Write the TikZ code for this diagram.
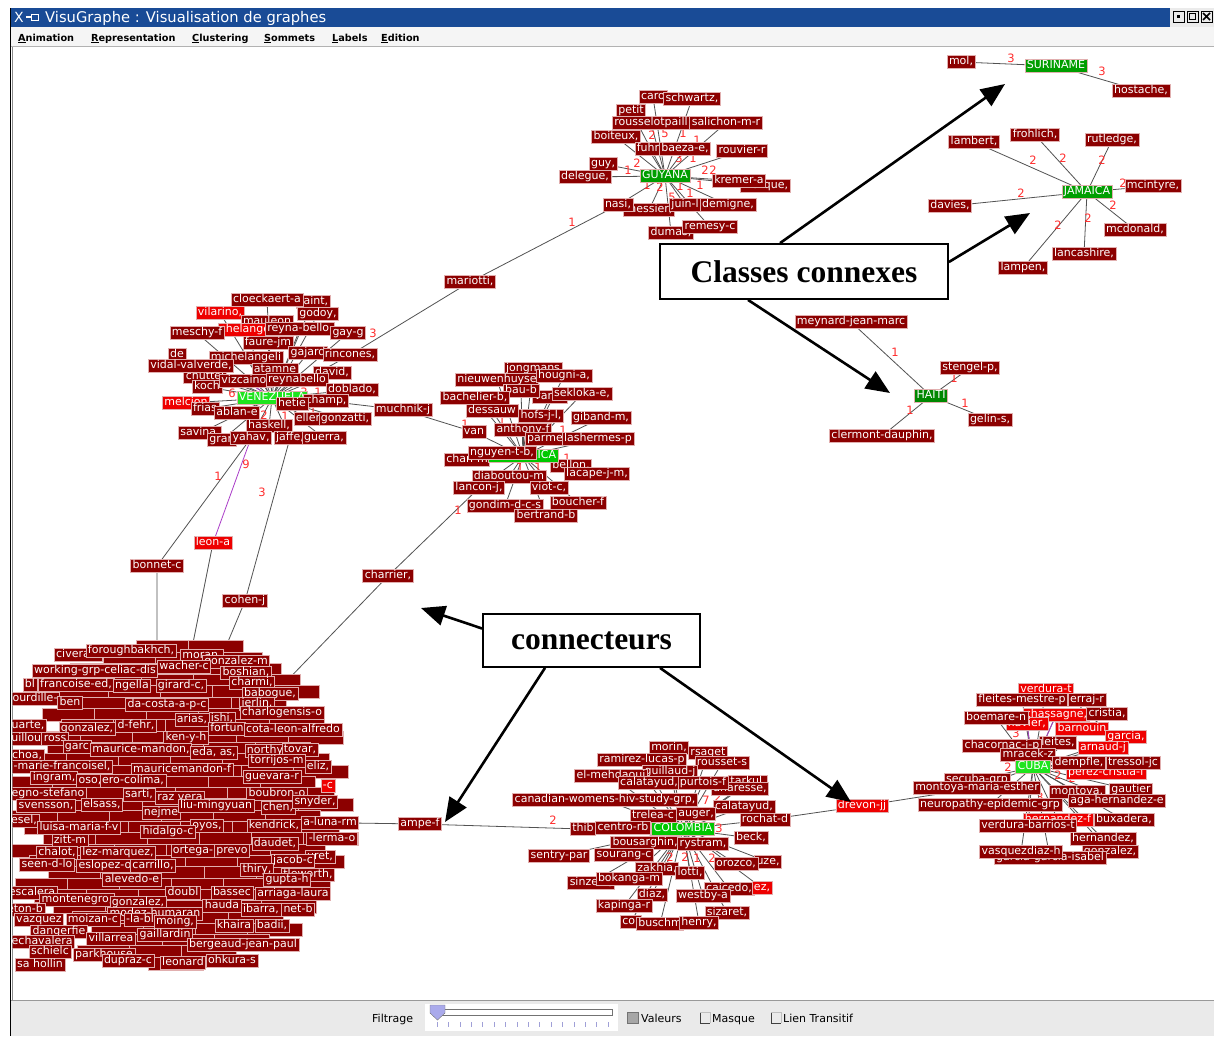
\documentclass[tikz,border=0pt]{standalone}
\usepackage{fontspec}
\setmainfont{DejaVu Sans}
\newfontfamily\callfont{Liberation Serif}
\usetikzlibrary{arrows.meta}
\pgfdeclarelayer{background}
\pgfdeclarelayer{canvas}
\pgfsetlayers{canvas,background,main}
\definecolor{dr}{RGB}{140,0,0}
\definecolor{br}{RGB}{238,0,0}
\definecolor{labborder}{RGB}{225,175,175}
\definecolor{gdark}{RGB}{0,135,0}
\definecolor{gmid}{RGB}{0,158,0}
\definecolor{glime}{RGB}{30,228,30}
\definecolor{gcol}{RGB}{0,200,0}
\definecolor{wtred}{RGB}{255,45,45}
\definecolor{titleblue}{RGB}{25,75,150}
\definecolor{purpleedge}{RGB}{170,60,200}
\definecolor{panelgray}{RGB}{234,234,234}
\definecolor{thumb}{RGB}{170,170,235}
\definecolor{tick}{RGB}{160,160,215}

\tikzset{
  lab/.style={fill=#1, draw=labborder, line width=0.6pt, text=white,
    font=\fontsize{11}{11}\selectfont, inner xsep=2pt, inner ysep=1pt,
    text height=8pt, text depth=2.6pt},
  lab/.default=dr,
  edge/.style={draw=black!68, line width=0.8pt},
  pedge/.style={draw=purpleedge, line width=0.8pt},
  wt/.style={text=wtred, font=\fontsize{11.5}{11.5}\selectfont, inner sep=0pt},
  callout/.style={draw=black, line width=1.8pt, fill=white,
    font=\callfont\bfseries\fontsize{31.5}{31.5}\selectfont},
  bigarrow/.style={line width=2.6pt, -{Triangle[length=24pt,width=20pt]}},
  menu/.style={font=\bfseries\fontsize{9.7}{9.7}\selectfont, anchor=base west, inner sep=0pt},
  panel/.style={font=\fontsize{11}{11}\selectfont, anchor=base west, inner sep=0pt},
}

% a set of author labels: prefix, list x/y/colour/text
\newcommand\labelset[2]{%
  \foreach \Lx/\Ly/\Lc/\Lt [count=\Li] in {#2}{%
    \node[lab=\Lc] (#1\Li) at (\Lx,\Ly) {\Lt};
    \expandafter\xdef\csname n#1\endcsname{\Li}}%
}
% spokes from a country hub to every label of a set
\newcommand\spokes[2]{%
  \edef\spokecount{\csname n#2\endcsname}%
  \begin{pgfonlayer}{background}
    \foreach \Li in {1,...,\spokecount}{\draw[edge] (#1) -- (#2\Li);}
  \end{pgfonlayer}%
}

\begin{document}
\begin{tikzpicture}[x=1pt,y=-1pt]
\useasboundingbox (0,0) rectangle (1214,1036);
\begin{pgfonlayer}{canvas}
  \fill[white] (0,0) rectangle (1214,1036);
\end{pgfonlayer}

% ---------- window chrome ----------
\fill[titleblue] (11,8) rectangle (1170,26.5);
\fill[black!8] (1170,8) rectangle (1214,26.5);
\draw[black, line width=1pt] (1173,11) rectangle (1184,22);
\fill[black] (1177,15) rectangle (1180,18);
\draw[black, line width=1pt] (1187,11) rectangle (1198,22);
\draw[black, line width=1.6pt] (1189.5,13.5) rectangle (1195.5,19.5);
\draw[black, line width=1pt] (1201,11) rectangle (1212,22);
\draw[black, line width=1.6pt] (1203,13) -- (1210,20) (1210,13) -- (1203,20);
\node[font=\fontsize{14}{14}\selectfont, text=white, inner sep=0pt, anchor=base west] (xicon) at (14,22) {X};
\draw[white, line width=1.2pt] (26,17) -- (31,17);
\draw[white, line width=1pt] (31,14) rectangle (38,20);
\node[font=\fontsize{14.7}{14.7}\selectfont, text=white, inner sep=0pt, anchor=base west] (title) at (45,22.5) {VisuGraphe : Visualisation de graphes};

\fill[black!4] (11,26.5) rectangle (1214,46);
\node[menu] (m1) at (18,41) {\underline{A}nimation};
\node[menu] (m2) at (91,41) {\underline{R}epresentation};
\node[menu] (m3) at (192,41) {\underline{C}lustering};
\node[menu] (m4) at (264,41) {\underline{S}ommets};
\node[menu] (m5) at (332,41) {\underline{L}abels};
\node[menu] (m6) at (381,41) {\underline{E}dition};
\draw[black!30] (11,46.5) -- (1214,46.5);
\draw[black, line width=1.2pt] (10.6,8) -- (10.6,1036);
\draw[black!45] (12.6,47) -- (12.6,1000);

% ---------- bottom panel ----------
\fill[panelgray] (11,1000.5) rectangle (1214,1036);
\draw[black!40] (11,1000.5) -- (1214,1000.5);
\node[panel] (p1) at (372,1022) {Filtrage};
\fill[white] (425,1004) rectangle (618,1031);
\draw[black!55, fill=white] (433,1009) rectangle (612,1015);
\draw[black!55, fill=thumb] (430,1005) -- (445,1005) -- (445,1013) -- (437.5,1020) -- (430,1013) -- cycle;
\foreach \k in {0,...,15} \draw[tick] (437+\k*11.4,1022) -- ++(0,5);
\filldraw[fill=black!35, draw=black!55] (627,1012) rectangle (638,1023);
\node[panel] (p2) at (641,1022) {Valeurs};
\draw[black!75] (700,1012) -- (700,1023) -- (710,1023);
\draw[black!25] (700,1012) -- (710,1012) -- (710,1023);
\node[panel] (p3) at (712,1022) {Masque};
\draw[black!75] (771,1012) -- (771,1023) -- (781,1023);
\draw[black!25] (771,1012) -- (781,1012) -- (781,1023);
\node[panel] (p4) at (783,1022) {Lien Transitif};

% ---------- SURINAME ----------
\node[lab=gmid] (su) at (1056,66) {SURINAME};
\labelset{suA}{961/62/dr/{mol,}, 1141/91/dr/{hostache,}}
\spokes{su}{suA}

% ---------- JAMAICA ----------
\node[lab=gmid] (ja) at (1087,192) {JAMAICA};
\labelset{jaA}{974/142/dr/{lambert,}, 1035/135/dr/{frohlich,}, 1112/140/dr/{rutledge,},
  1153/186/dr/{mcintyre,}, 950/206/dr/{davies,}, 1135/230/dr/{mcdonald,},
  1084/254/dr/{lancashire,}, 1023/268/dr/{lampen,}}
\spokes{ja}{jaA}

% ---------- HAITI ----------
\node[lab=gdark] (ha) at (931,396) {HAITI};
\labelset{haA}{851/322/dr/{meynard-jean-marc}, 970/368/dr/{stengel-p,},
  990/420/dr/{gelin-s,}, 882/436/dr/{clermont-dauphin,}}
\spokes{ha}{haA}

% ---------- GUYANA ----------
\labelset{guA}{653/97/dr/{caro}, 692/99/dr/{schwartz,}, 631/111/dr/{petit},
  651/123/dr/{rousselotpaill}, 726/123/dr/{salichon-m-r}, 616/137/dr/{boiteux,},
  648/149/dr/{fuhr}, 742/151/dr/{rouvier-r}, 685/149/dr/{baeza-e,},
  603/164/dr/{guy,}, 585/177/dr/{delegue,}, 765/186/dr/{marque,}}
\node[lab=gmid] (gu) at (665,176) {GUYANA};
\labelset{guB}{739/181/dr/{kremer-a}, 649/210/dr/{messier,}, 618/205/dr/{nasi,},
  685/205/dr/{juin-l}, 728/205/dr/{demigne,}, 671/233/dr/{dumas,}, 710/227/dr/{remesy-c}}
\spokes{gu}{guA}
\spokes{gu}{guB}

% ---------- VENEZUELA ----------
\labelset{veA}{177/355/dr/{de}, 205/377/dr/{chuttel}, 207/387/dr/{koch},
  313/302/dr/{saint,}, 220/313/br/{vilarino,}, 267/300/dr/{cloeckaert-a},
  318/314/dr/{godoy,}, 267/322/dr/{mauleon}, 245/330/br/{chelange},
  197/333/dr/{meschy-f}, 300/329/dr/{reyna-bello,}, 348/333/dr/{gay-g},
  268/343/dr/{faure-jm}, 308/353/dr/{gajard}, 350/355/dr/{rincones,},
  246/358/dr/{michelangeli}, 191/366/dr/{vidal-valverde,}, 275/370/dr/{atamne},
  332/373/dr/{david,}, 246/381/dr/{vizcaino-}, 297/380/dr/{reynabello},
  352/390/dr/{doblado,}, 186/403/br/{melcion}}
\node[lab=glime] (ve) at (272,398) {VENEZUELA};
\labelset{veB}{205/409/dr/{frias}, 326/401/dr/{champ,}, 292/404/dr/{hetie},
  237/413/dr/{ablan-e}, 308/419/dr/{eller}, 345/419/dr/{gonzatti,},
  269/426/dr/{haskell,}, 200/433/dr/{savina,}, 222/440/dr/{gran},
  251/438/dr/{yahav,}, 290/438/dr/{jaffe,}, 324/438/dr/{guerra,}}
\spokes{ve}{veA}
\spokes{ve}{veB}

% ---------- COSTA RICA ----------
\labelset{crA}{533/369/dr/{jongmans}, 497/380/dr/{nieuwenhuyse}, 564/376/dr/{hougni-a,},
  550/397/dr/{van-d}, 521/391/dr/{bau-b}, 582/394/dr/{sekloka-e,},
  475/398/dr/{bachelier-b,}, 492/411/dr/{dessauw}, 541/416/dr/{hofs-j-l,},
  601/418/dr/{giband-m,}, 474/432/dr/{van}, 523/430/dr/{anthony-f},
  545/439/dr/{parme}, 598/439/dr/{lashermes-p}, 467/460/dr/{chan-m},
  571/466/dr/{bellon,}}
\node[lab=gcol] (cr) at (523,456) {COSTA RICA};
\labelset{crB}{502/453/dr/{nguyen-t-b,}, 597/474/dr/{lacape-j-m,}, 509/477/dr/{diaboutou-m},
  479/488/dr/{lancon-j,}, 549/488/dr/{viot-c,}, 578/503/dr/{boucher-f},
  505/506/dr/{gondim-d-c-s}, 546/516/dr/{bertrand-b}}
\spokes{cr}{crA}
\spokes{cr}{crB}

% ---------- COLOMBIA ----------
\labelset{coA}{669/748/dr/{morin,}, 708/753/dr/{rsaget}, 642/760/dr/{ramirez-lucas-p},
  722/763/dr/{rousset-s}, 670/772/dr/{guillaud-j}, 611/776/dr/{el-mehdaoui},
  748/782/dr/{tarkul,}, 740/789/dr/{anaresse,}, 649/783/dr/{calatayud,},
  703/783/dr/{purtois-f}, 605/800/dr/{canadian-womens-hiv-study-grp,},
  744/807/dr/{calatayud,}, 653/816/dr/{trelea-c}, 696/814/dr/{auger,},
  765/820/dr/{rochat-d}, 583/829/dr/{thib}, 623/828/dr/{centro-rb}}
\node[lab=gcol] (co) at (683,829) {COLOMBIA};
\labelset{coB}{751/838/dr/{beck,}, 645/843/dr/{bousarghin,}, 703/844/dr/{rystram,},
  559/856/dr/{sentry-par}, 624/855/dr/{sourang-c}, 768/862/dr/{uze,},
  736/864/dr/{orozco,}, 657/869/dr/{zakhia,}, 690/873/dr/{lotti,},
  591/883/dr/{sinzem,}, 629/879/dr/{bokanga-m}, 729/889/dr/{caicedo,},
  762/888/br/{ez,}, 652/895/dr/{diaz,}, 703/896/dr/{westby-a},
  624/906/dr/{kapinga-r}, 727/913/dr/{sizaret,}, 631/922/dr/{cor},
  660/924/dr/{buschm}, 699/923/dr/{henry,}}
\spokes{co}{coA}
\spokes{co}{coB}

% ---------- CUBA ----------
\labelset{cuA}{1046/690/br/{verdura-t}, 1022/700/dr/{fleites-mestre-p}, 1087/700/dr/{erraj-r},
  1056/715/br/{chassagne,}, 1027/724/br/{xavier,}, 1107/714/dr/{cristia,},
  996/718/dr/{boemare-n}, 1082/729/br/{barnouin}, 1126/737/br/{garcia,},
  1058/743/dr/{leites,}, 1002/746/dr/{chacornac-j-p}, 1103/748/br/{arnaud-j},
  1028/755/dr/{mracek-z}, 1106/773/br/{perez-cristia-f}}
\node[lab=glime] (cu) at (1033,767) {CUBA};
\labelset{cuB}{1079/763/dr/{dempfle,}, 1133/763/dr/{tressol-jc}, 977/780/dr/{secuba-grp},
  1131/790/dr/{gautier}, 1077/792/dr/{montoya,}, 977/788/dr/{montoya-maria-esther},
  1117/801/dr/{aga-hernandez-e}, 990/805/dr/{neuropathy-epidemic-grp},
  1058/820/br/{hernandez-f}, 1124/820/dr/{buxadera,}, 1028/826/dr/{verdura-barrios-t},
  1103/839/dr/{hernandez,}, 1110/852/dr/{gonzalez,}, 1050/858/dr/{garcia-garcia-isabel},
  1021/852/dr/{vasquezdiaz-h}}
\spokes{cu}{cuA}
\spokes{cu}{cuB}

% ---------- large connected cluster at the lower left ----------
\begin{scope}
  \clip (12.6,600) rectangle (420,1000);
  \foreach \r in {0,...,28}{
    \foreach \k in {0,...,7}{
      \pgfmathsetmacro\bsx{-20+\k*52+mod(\r*19,52)}
      \pgfmathsetmacro\bsy{647+\r*11.3}
      \pgfmathsetmacro\bdx{(\bsx+26-176)/158}
      \pgfmathsetmacro\bdy{(\bsy-806)/165}
      \pgfmathtruncatemacro\bins{(\bdx*\bdx+\bdy*\bdy<1)?1:0}
      \ifnum\bins=1
        \fill[dr, draw=labborder, line width=0.6pt] (\bsx,\bsy-6.5) rectangle ++(55,13);
      \fi
    }
  }
  \labelset{bl}{78/655/dr/{civera-c}, 131/651/dr/{foroughbakhch,}, 202/656/dr/{moran,},
    236/662/dr/{gonzalez-m}, 95/671/dr/{working-grp-celiac-dis}, 184/667/dr/{wacher-c},
    246/673/dr/{boshian,}, 30/685/dr/{bl}, 76/685/dr/{francoise-ed,}, 132/686/dr/{ngella},
    181/686/dr/{girard-c,}, 252/683/dr/{charmi,}, 270/694/dr/{babogue,},
    35/699/dr/{ourdille-}, 70/703/dr/{ben}, 167/705/dr/{da-costa-a-p-c},
    257/704/dr/{ierlin,}, 282/713/dr/{charlogensis-o}, 192/720/dr/{arias,},
    222/719/dr/{ishi,}, 28/726/dr/{uarte,}, 87/729/dr/{gonzalez,}, 136/726/dr/{d-fehr,},
    227/729/dr/{fortun}, 293/730/dr/{cota-leon-alfredo}, 28/739/dr/{uillou,},
    55/739/dr/{ross}, 186/738/dr/{ken-y-h}, 77/747/dr/{garc},
    141/750/dr/{maurice-mandon,}, 214/753/dr/{eda, as,}, 265/751/dr/{northy},
    300/750/dr/{tovar,}, 27/756/dr/{choa,}, 277/761/dr/{torrijos-m},
    62/767/dr/{-marie-francoisel,}, 182/770/dr/{mauricemandon-f}, 318/767/dr/{eliz,},
    54/778/dr/{ingram,}, 90/781/dr/{oso,}, 133/781/dr/{ero-colima,},
    272/777/dr/{guevara-r}, 328/786/br/{-c}, 48/794/dr/{egno-stefano}, 139/795/dr/{sarti,},
    180/798/dr/{raz vera}, 277/794/dr/{boubron-o}, 46/806/dr/{svensson,},
    102/805/dr/{elsass,}, 161/813/dr/{nejme}, 216/806/dr/{liu-mingyuan},
    278/808/dr/{chen,}, 315/802/dr/{snyder,}, 24/821/dr/{esel,}, 207/826/dr/{oyos,},
    330/823/dr/{a-luna-rm}, 79/828/dr/{luisa-maria-f-v}, 168/832/dr/{hidalgo-c},
    274/826/dr/{kendrick,}, 70/841/dr/{zitt-m}, 332/839/dr/{-lerma-o},
    275/844/dr/{daudet,}, 57/853/dr/{chalot,}, 118/853/dr/{lez-marquez,},
    193/851/dr/{ortega-}, 232/851/dr/{prevo}, 320/857/dr/{uret,},
    293/861/dr/{jacob-c}, 47/865/dr/{seen-d-lo}, 105/866/dr/{eslopez-o},
    153/866/dr/{carrillo,}, 257/870/dr/{thiry,}, 308/875/dr/{tleworth,},
    132/880/dr/{alevedo-e}, 287/880/dr/{gupta-h}, 30/893/dr/{-escalera},
    183/893/dr/{doubl}, 232/893/dr/{bassec}, 293/894/dr/{arriaga-laura},
    77/900/dr/{montenegro,}, 138/903/dr/{gonzalez,}, 25/910/dr/{eton-b},
    222/906/dr/{hauda}, 155/914/dr/{modez-humaran}, 261/910/dr/{ibarra,},
    298/910/dr/{net-b}, 39/920/dr/{vazquez}, 93/920/dr/{moizan-c},
    140/920/dr/{-la-bl}, 175/922/dr/{moing,}, 234/926/dr/{khaira},
    272/926/dr/{badii,}, 59/932/dr/{dangerfie}, 165/935/dr/{gaillardin},
    111/939/dr/{villarrea}, 40/942/dr/{rechavalera}, 243/945/dr/{bergeaud-jean-paul},
    50/952/dr/{schielc}, 104/955/dr/{parkhouse}, 40/965/dr/{sa hollin},
    128/961/dr/{dupraz-c}, 183/963/dr/{leonard}, 232/961/dr/{ohkura-s}}
\end{scope}
\coordinate (blobA) at (157,642);
\coordinate (blobB) at (192,648);
\coordinate (blobC) at (222,656);
\coordinate (blobD) at (278,690);
\coordinate (blobR) at (352,823);

% ---------- authors linking the clusters ----------
\node[lab] (mariotti) at (470,282) {mariotti,};
\node[lab] (muchnik) at (403,410) {muchnik-j};
\node[lab] (bonnet) at (157,566) {bonnet-c};
\node[lab=br] (leon) at (213,543) {leon-a};
\node[lab] (cohen) at (245,601) {cohen-j};
\node[lab] (charrier) at (388,576) {charrier,};
\node[lab] (ampe) at (420,824) {ampe-f};
\node[lab=br] (drevon) at (862,806) {drevon-jj};

\begin{pgfonlayer}{background}
  \draw[edge] (guB3) -- (mariotti) -- (veA15);
  \draw[edge] (veB2) -- (muchnik) -- (crA11);
  \draw[edge] (veB10) -- (bonnet) -- (blobA);
  \draw[pedge] (veB10) -- (leon);
  \draw[edge] (leon) -- (blobB);
  \draw[edge] (veB11) -- (cohen) -- (blobC);
  \draw[edge] (crB4) -- (charrier) -- (blobD);
  \draw[edge] (blobR) -- (ampe) -- (coA16);
  \draw[edge] (coA15) -- (drevon) -- (cuB6);
  \draw[pedge] (ve) -- (veA20);
  \draw[pedge] (cu) -- (cuA5);
  \draw[pedge] (cu) -- (cuA4);
  \draw[pedge] (cu) -- (cuA8);
  % edge weights
  \foreach \Wx/\Wy/\Wt [count=\i] in {
    572/222/1, 373/333/3, 218/476/1, 246/464/9, 262/492/3, 458/510/1, 553/820/2, 465/424/1,
    1011/58/3, 1102/71/3,
    1033/160/2, 1063/158/2, 1102/160/2, 1123/183/2, 1021/193/2, 1113/205/2, 1088/218/2, 1058/225/2,
    895/352/1, 954/378/1, 965/403/1, 910/410/1,
    637/163/2, 628/170/1, 705/170/2, 713/170/2, 700/185/1, 680/186/1, 660/187/2, 647/185/1,
    665/133/5, 652/135/2, 683/133/1, 697/140/1, 679/158/3, 693/158/1, 690/193/1, 672/197/5,
    232/393/6, 313/410/1, 304/392/3, 318/392/1, 264/415/2, 285/416/1, 263/366/1,
    502/420/1, 563/430/1, 567/458/1, 527/438/1, 520/467/1, 538/467/1,
    719/828/3, 670/857/2, 685/857/2, 697/858/1, 712/858/2, 706/800/7, 718/797/2,
    1008/767/2, 1016/733/3, 1058/775/2, 1072/778/2, 1040/797/3, 1053/798/2}
    {\node[wt] (w\i) at (\Wx,\Wy) {\Wt};}
\end{pgfonlayer}

% ---------- annotations ----------
\node[callout, minimum width=288pt, minimum height=55pt] (cc) at (804,271.5) {Classes connexes};
\node[callout, minimum width=217pt, minimum height=53pt] (cn) at (591.5,640.5) {connecteurs};
\coordinate (tipSu) at (1005,84);
\coordinate (tipJa) at (1030,213);
\coordinate (tipHa) at (890,393);
\coordinate (tipMid) at (421,608);
\coordinate (tipAmpe) at (445,822);
\coordinate (tipDrevon) at (851,802);
\draw[bigarrow] ([xshift=-24pt]cc.north) -- (tipSu);
\draw[bigarrow] ([yshift=9.5pt]cc.east) -- (tipJa);
\draw[bigarrow] ([xshift=-56pt]cc.south) -- (tipHa);
\draw[bigarrow] ([yshift=12pt]cn.west) -- (tipMid);
\draw[bigarrow] ([xshift=-46.5pt]cn.south) -- (tipAmpe);
\draw[bigarrow] ([xshift=68.5pt]cn.south) -- (tipDrevon);
\end{tikzpicture}
\end{document}
